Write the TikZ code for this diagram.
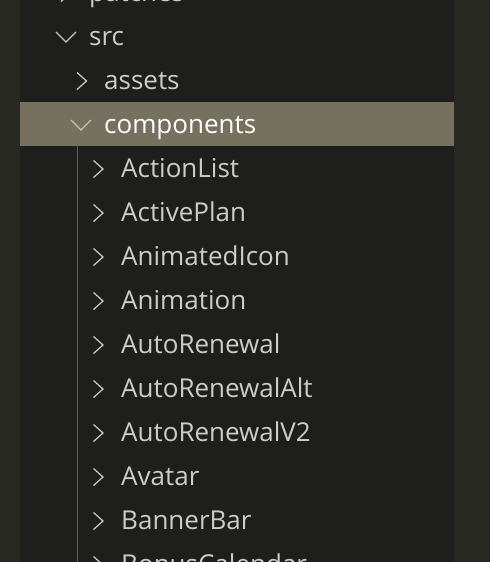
\documentclass[tikz,border=0pt]{standalone}
\usepackage{fontspec}
\setmainfont{Open Sans}
\usetikzlibrary{calc}

\definecolor{outerbg}{HTML}{272822}
\definecolor{panelbg}{HTML}{1E1F1C}
\definecolor{selbg}{HTML}{75715E}
\definecolor{itemfg}{HTML}{CCCCCC}
\definecolor{chevfg}{HTML}{C2C2C2}
\definecolor{guidefg}{HTML}{5C5C58}

\tikzset{
  item/.style={anchor=base west,inner sep=0pt,text=itemfg,font=\fontsize{26}{26}\selectfont},
  chev/.style={draw=chevfg,line width=1.3pt,line join=miter},
}
% chevrons, drawn relative to the text of a row
\newcommand\chevright[2]{\draw[chev] ($ (#1.base west) + (#2,-17) $) -- ++(9.5,8.5) -- ++(-9.5,8.5);}
\newcommand\chevdown[1]{\draw[chev] ($ (#1.base west) + (-33,-13.5) $) -- ++(10,10) -- ++(10,-10);}

\begin{document}
\begin{tikzpicture}[x=1pt,y=-1pt]
  \path[clip] (0,0) rectangle (490,562);
  \fill[outerbg] (0,0) rectangle (490,562);
  \fill[panelbg] (20,0) rectangle (454,562);
  \fill[selbg] (20,102) rectangle (454,146);
  \draw[guidefg,line width=1pt] (77,146) -- (77,562);

  \node[item] (patches) at (89,1.5) {patches};
  \node[item] (src) at (89,45.5) {src};
  \node[item] (assets) at (104,89.5) {assets};
  \node[item,text=white] (components) at (104,133.5) {components};

  \node[item] (actionlist) at (121,177.5) {ActionList};
  \node[item] (activeplan) at (121,221.5) {ActivePlan};
  \node[item] (animatedicon) at (121,265.5) {AnimatedIcon};
  \node[item] (animation) at (121,309.5) {Animation};
  \node[item] (autorenewal) at (121,353.5) {AutoRenewal};
  \node[item] (autorenewalalt) at (121,397.5) {AutoRenewalAlt};
  \node[item] (autorenewalv2) at (121,441.5) {AutoRenewalV2};
  \node[item] (avatar) at (121,485.5) {Avatar};
  \node[item] (bannerbar) at (121,529.5) {BannerBar};
  \node[item] (bonuscalendar) at (121,573.5) {BonusCalendar};

  \chevright{patches}{-28}
  \chevdown{src}
  \chevright{assets}{-27}
  \chevdown{components}
  \foreach \n in {actionlist,activeplan,animatedicon,animation,autorenewal,
    autorenewalalt,autorenewalv2,avatar,bannerbar,bonuscalendar}
    {\chevright{\n}{-27.5}}
\end{tikzpicture}
\end{document}
